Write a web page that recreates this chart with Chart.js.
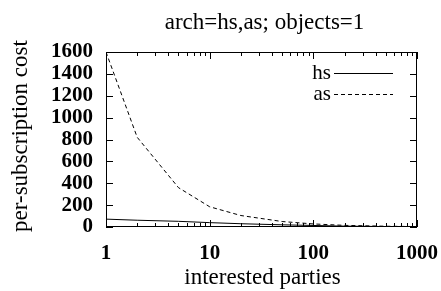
<!DOCTYPE html>
<html>
<head>
<meta charset="utf-8">
<script src="https://cdn.jsdelivr.net/npm/chart.js@4/dist/chart.umd.min.js"></script>
<style>
  body { margin: 0; background: #fff; }
  #chart { display: block; }
</style>
</head>
<body>
<canvas id="chart" width="441" height="291"></canvas>
<script>
// Data
const parties = [1, 2, 5, 10, 20, 50, 100, 200, 500, 1000];
const hsCost = [72, 62, 52, 40, 30, 20, 14, 8, 4, 2];
const asCost = [1600, 820, 360, 185, 105, 50, 28, 15, 7, 4];
const xTicks = [1, 10, 100, 1000];
const yTicks = [0, 200, 400, 600, 800, 1000, 1200, 1400, 1600];

const titleText = 'arch=hs,as; objects=1';
const xTitle = 'interested parties';
const yTitle = 'per-subscription cost';
const serif = '"Liberation Serif", "Times New Roman", serif';

function toPoints(xs, ys) {
    return xs.map((x, i) => ({ x: x, y: ys[i] }));
}

// gnuplot-like frame, inward ticks, legend and titles
const framePlugin = {
    id: 'frame',
    afterDraw(chart) {
        const ctx = chart.ctx;
        const a = chart.chartArea;
        const xs = chart.scales.x;
        const ys = chart.scales.y;
        ctx.save();
        ctx.strokeStyle = '#000';
        ctx.lineWidth = 1;
        ctx.strokeRect(a.left + 0.5, a.top + 0.5, a.right - a.left - 1, a.bottom - a.top - 1);

        ctx.beginPath();
        // x ticks (major + minor) on bottom and top
        for (let d = 1; d <= 100; d *= 10) {
            for (let m = 1; m <= 10; m++) {
                const v = d * m;
                if (v > 1000) continue;
                const px = Math.round(xs.getPixelForValue(v)) + 0.5;
                const len = (m === 1 || m === 10) ? 7 : 4;
                ctx.moveTo(px, a.bottom); ctx.lineTo(px, a.bottom - len);
                ctx.moveTo(px, a.top); ctx.lineTo(px, a.top + len);
            }
        }
        // y ticks on left and right
        yTicks.forEach(v => {
            const py = Math.round(ys.getPixelForValue(v)) + 0.5;
            ctx.moveTo(a.left, py); ctx.lineTo(a.left + 7, py);
            ctx.moveTo(a.right, py); ctx.lineTo(a.right - 7, py);
        });
        ctx.stroke();

        // legend
        ctx.font = '21px ' + serif;
        ctx.fillStyle = '#000';
        ctx.textAlign = 'right';
        ctx.textBaseline = 'middle';
        chart.data.datasets.forEach((ds, i) => {
            const y = a.top + 21 + i * 21;
            ctx.fillText(ds.label, a.right - 86, y);
            ctx.beginPath();
            ctx.setLineDash(ds.borderDash || []);
            ctx.moveTo(a.right - 83, Math.round(y) + 0.5);
            ctx.lineTo(a.right - 24, Math.round(y) + 0.5);
            ctx.stroke();
        });
        ctx.setLineDash([]);

        // titles
        const cx = (a.left + a.right) / 2;
        ctx.textAlign = 'center';
        ctx.textBaseline = 'alphabetic';
        ctx.font = '23px ' + serif;
        ctx.fillText(titleText, cx + 3, 29);
        ctx.fillText(xTitle, cx + 1, 284);
        ctx.translate(27, 136);
        ctx.rotate(-Math.PI / 2);
        ctx.fillText(yTitle, 0, 0);
        ctx.restore();
    }
};

new Chart(document.getElementById('chart'), {
    type: 'line',
    data: {
        datasets: [{
            label: 'hs',
            data: toPoints(parties, hsCost),
            borderColor: '#000',
            borderWidth: 1,
            pointRadius: 0,
            tension: 0
        }, {
            label: 'as',
            data: toPoints(parties, asCost),
            borderColor: '#000',
            borderWidth: 1,
            borderDash: [4, 3],
            pointRadius: 0,
            tension: 0
        }]
    },
    options: {
        responsive: false,
        animation: false,
        events: [],
        layout: { padding: { top: 52, right: 24, left: 0, bottom: 0 } },
        plugins: {
            legend: { display: false },
            tooltip: { enabled: false },
            title: { display: false }
        },
        scales: {
            x: {
                type: 'logarithmic',
                min: 1,
                max: 1000,
                afterBuildTicks: s => { s.ticks = xTicks.map(v => ({ value: v })); },
                afterFit: s => { s.height = 64; s.paddingLeft = 0; s.paddingRight = 0; },
                grid: { display: false, drawTicks: false },
                border: { display: false },
                ticks: {
                    color: '#000',
                    padding: 14,
                    maxRotation: 0,
                    autoSkip: false,
                    font: { family: serif, size: 21, weight: 'bold' },
                    callback: v => String(v)
                }
            },
            y: {
                min: 0,
                max: 1600,
                afterBuildTicks: s => { s.ticks = yTicks.map(v => ({ value: v })); },
                afterFit: s => { s.width = 106; s.paddingTop = 0; s.paddingBottom = 0; },
                grid: { display: false, drawTicks: false },
                border: { display: false },
                ticks: {
                    color: '#000',
                    padding: 13,
                    autoSkip: false,
                    font: { family: serif, size: 21, weight: 'bold' },
                    callback: v => String(v)
                }
            }
        }
    },
    plugins: [framePlugin]
});
</script>
</body>
</html>
